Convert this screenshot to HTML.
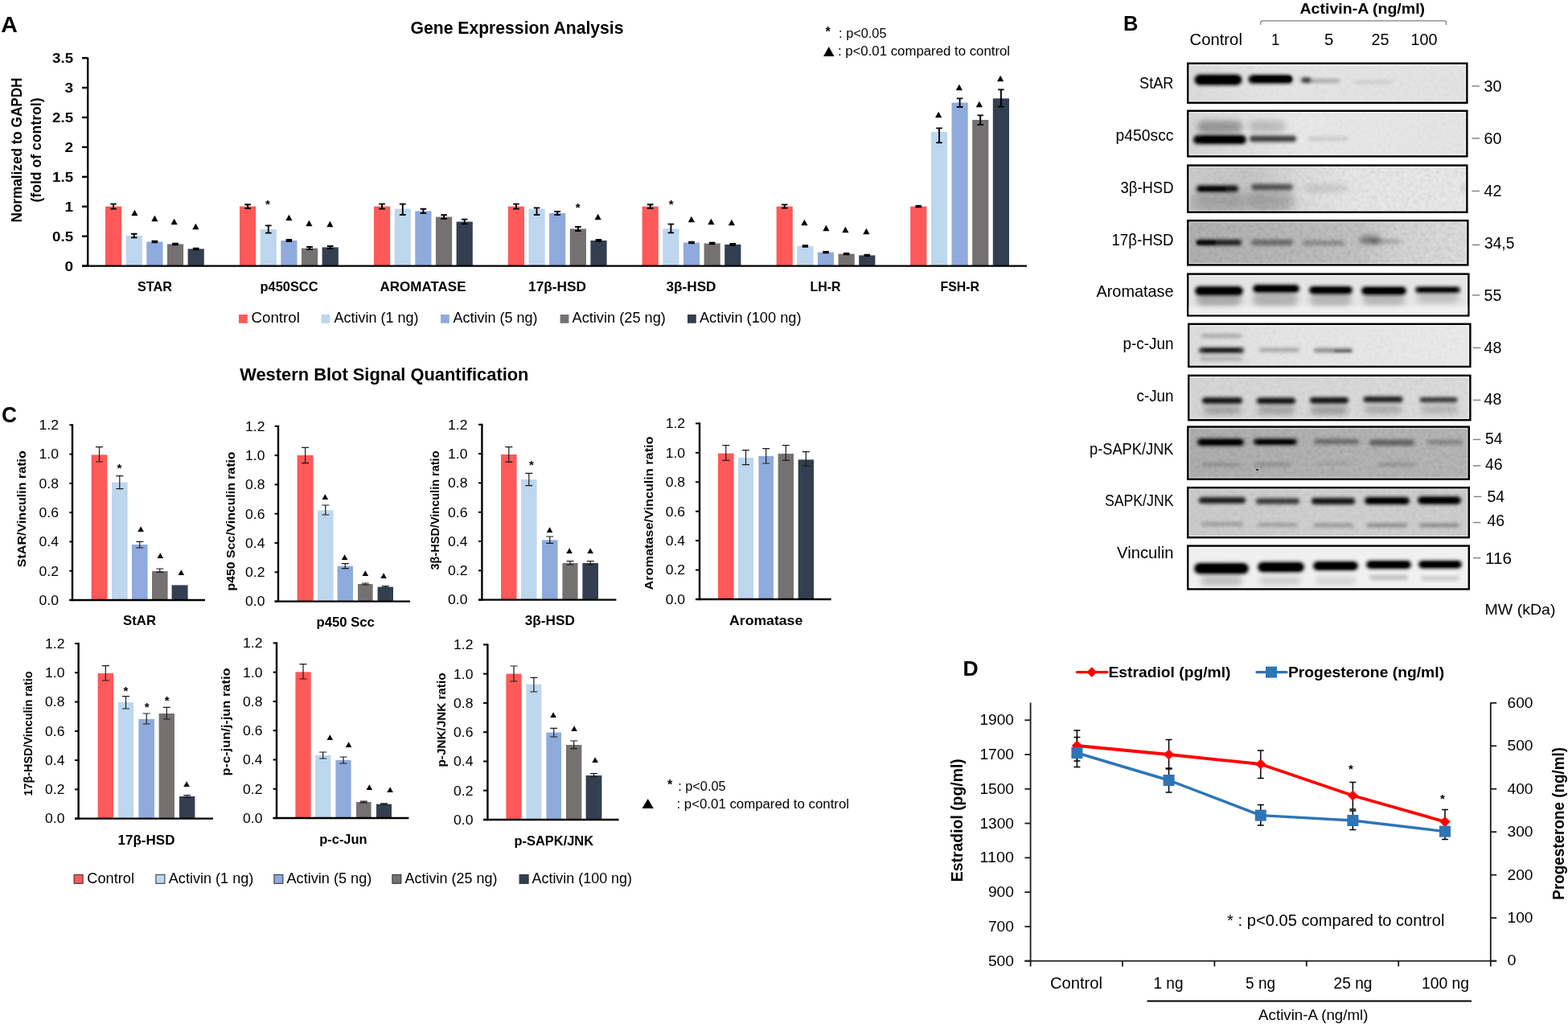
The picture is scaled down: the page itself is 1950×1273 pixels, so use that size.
<!DOCTYPE html>
<html lang="en"><head><meta charset="utf-8"><title>Figure</title>
<style>
html,body{margin:0;padding:0;background:#fff;}
body{width:1950px;height:1273px;overflow:hidden;}
svg{display:block;font-family:'Liberation Sans', sans-serif;filter:blur(0.45px);}
</style></head><body>
<svg width="1950" height="1273" viewBox="0 0 1950 1273" font-family='"Liberation Sans", sans-serif'>
<defs>
<filter id="b1" x="-50%" y="-400%" width="200%" height="900%"><feGaussianBlur stdDeviation="1.2"/></filter>
<filter id="b2" x="-50%" y="-400%" width="200%" height="900%"><feGaussianBlur stdDeviation="2"/></filter>
<filter id="b3" x="-50%" y="-400%" width="200%" height="900%"><feGaussianBlur stdDeviation="3.5"/></filter>
<filter id="b5" x="-50%" y="-400%" width="200%" height="900%"><feGaussianBlur stdDeviation="6"/></filter>
<filter id="nz" x="0" y="0" width="100%" height="100%"><feTurbulence type="fractalNoise" baseFrequency="0.3" numOctaves="2" seed="7" result="t"/><feColorMatrix in="t" type="matrix" values="0 0 0 0 0  0 0 0 0 0  0 0 0 0 0  1.6 0 0 0 -0.62"/><feGaussianBlur stdDeviation="0.9"/></filter>
</defs>
<rect width="1950" height="1273" fill="#fff"/>
<g id="panelA">
<text x="1.3" y="40.0" font-size="27.4" font-weight="bold" textLength="20.6" lengthAdjust="spacingAndGlyphs">A</text>
<text x="510.5" y="41.6" font-size="21.8" font-weight="bold" textLength="265.0" lengthAdjust="spacingAndGlyphs">Gene Expression Analysis</text>
<text x="1029.6" y="44.7" font-size="16" font-weight="bold" text-anchor="middle">*</text>
<text x="1043.1" y="46.6" font-size="16" textLength="59.4" lengthAdjust="spacingAndGlyphs">: p&lt;0.05</text>
<text x="1024.0" y="68.0" font-size="15.6" font-family="'DejaVu Sans', sans-serif" textLength="13.5" lengthAdjust="spacingAndGlyphs">▲</text>
<text x="1041.9" y="68.6" font-size="16" textLength="214.2" lengthAdjust="spacingAndGlyphs">: p&lt;0.01 compared to control</text>
<text transform="translate(26.6 186.5) rotate(-90)" font-size="17.6" font-weight="bold" text-anchor="middle" textLength="180.0" lengthAdjust="spacingAndGlyphs">Normalized to GAPDH</text>
<text transform="translate(50.6 186.5) rotate(-90)" font-size="17.6" font-weight="bold" text-anchor="middle" textLength="130.0" lengthAdjust="spacingAndGlyphs">(fold of control)</text>
<text x="91.1" y="336.6" font-size="17" font-weight="bold" text-anchor="end" textLength="10.6" lengthAdjust="spacingAndGlyphs">0</text>
<line x1="102.00" y1="330.60" x2="109.00" y2="330.60" stroke="#000" stroke-width="2.4"/>
<text x="91.1" y="299.7" font-size="17" font-weight="bold" text-anchor="end" textLength="26.0" lengthAdjust="spacingAndGlyphs">0.5</text>
<line x1="102.00" y1="293.68" x2="109.00" y2="293.68" stroke="#000" stroke-width="2.4"/>
<text x="91.1" y="262.8" font-size="17" font-weight="bold" text-anchor="end" textLength="10.6" lengthAdjust="spacingAndGlyphs">1</text>
<line x1="102.00" y1="256.75" x2="109.00" y2="256.75" stroke="#000" stroke-width="2.4"/>
<text x="91.1" y="225.8" font-size="17" font-weight="bold" text-anchor="end" textLength="26.0" lengthAdjust="spacingAndGlyphs">1.5</text>
<line x1="102.00" y1="219.83" x2="109.00" y2="219.83" stroke="#000" stroke-width="2.4"/>
<text x="91.1" y="188.9" font-size="17" font-weight="bold" text-anchor="end" textLength="10.6" lengthAdjust="spacingAndGlyphs">2</text>
<line x1="102.00" y1="182.90" x2="109.00" y2="182.90" stroke="#000" stroke-width="2.4"/>
<text x="91.1" y="152.0" font-size="17" font-weight="bold" text-anchor="end" textLength="26.0" lengthAdjust="spacingAndGlyphs">2.5</text>
<line x1="102.00" y1="145.98" x2="109.00" y2="145.98" stroke="#000" stroke-width="2.4"/>
<text x="91.1" y="115.1" font-size="17" font-weight="bold" text-anchor="end" textLength="10.6" lengthAdjust="spacingAndGlyphs">3</text>
<line x1="102.00" y1="109.05" x2="109.00" y2="109.05" stroke="#000" stroke-width="2.4"/>
<text x="91.1" y="78.1" font-size="17" font-weight="bold" text-anchor="end" textLength="26.0" lengthAdjust="spacingAndGlyphs">3.5</text>
<line x1="102.00" y1="72.13" x2="109.00" y2="72.13" stroke="#000" stroke-width="2.4"/>
<rect x="131.00" y="256.60" width="20.20" height="74.00" fill="#FF5959"/>
<rect x="156.65" y="293.00" width="20.20" height="37.60" fill="#BDD7EE"/>
<rect x="182.30" y="300.60" width="20.20" height="30.00" fill="#8FAADC"/>
<rect x="207.95" y="303.40" width="20.20" height="27.20" fill="#767171"/>
<rect x="233.60" y="309.40" width="20.20" height="21.20" fill="#333F50"/>
<rect x="298.00" y="256.60" width="20.20" height="74.00" fill="#FF5959"/>
<rect x="323.65" y="285.00" width="20.20" height="45.60" fill="#BDD7EE"/>
<rect x="349.30" y="299.00" width="20.20" height="31.60" fill="#8FAADC"/>
<rect x="374.95" y="308.60" width="20.20" height="22.00" fill="#767171"/>
<rect x="400.60" y="307.40" width="20.20" height="23.20" fill="#333F50"/>
<rect x="465.00" y="256.60" width="20.20" height="74.00" fill="#FF5959"/>
<rect x="490.65" y="259.60" width="20.20" height="71.00" fill="#BDD7EE"/>
<rect x="516.30" y="262.40" width="20.20" height="68.20" fill="#8FAADC"/>
<rect x="541.95" y="269.60" width="20.20" height="61.00" fill="#767171"/>
<rect x="567.60" y="275.60" width="20.20" height="55.00" fill="#333F50"/>
<rect x="631.80" y="256.60" width="20.20" height="74.00" fill="#FF5959"/>
<rect x="657.45" y="259.60" width="20.20" height="71.00" fill="#BDD7EE"/>
<rect x="683.10" y="265.00" width="20.20" height="65.60" fill="#8FAADC"/>
<rect x="708.75" y="284.40" width="20.20" height="46.20" fill="#767171"/>
<rect x="734.40" y="299.00" width="20.20" height="31.60" fill="#333F50"/>
<rect x="798.60" y="256.60" width="20.20" height="74.00" fill="#FF5959"/>
<rect x="824.25" y="284.40" width="20.20" height="46.20" fill="#BDD7EE"/>
<rect x="849.90" y="301.60" width="20.20" height="29.00" fill="#8FAADC"/>
<rect x="875.55" y="302.60" width="20.20" height="28.00" fill="#767171"/>
<rect x="901.20" y="304.00" width="20.20" height="26.60" fill="#333F50"/>
<rect x="965.60" y="256.60" width="20.20" height="74.00" fill="#FF5959"/>
<rect x="991.25" y="306.00" width="20.20" height="24.60" fill="#BDD7EE"/>
<rect x="1016.90" y="313.60" width="20.20" height="17.00" fill="#8FAADC"/>
<rect x="1042.55" y="315.60" width="20.20" height="15.00" fill="#767171"/>
<rect x="1068.20" y="317.40" width="20.20" height="13.20" fill="#333F50"/>
<rect x="1132.20" y="256.60" width="20.20" height="74.00" fill="#FF5959"/>
<rect x="1157.85" y="164.00" width="20.20" height="166.60" fill="#BDD7EE"/>
<rect x="1183.50" y="127.60" width="20.20" height="203.00" fill="#8FAADC"/>
<rect x="1209.15" y="149.00" width="20.20" height="181.60" fill="#767171"/>
<rect x="1234.80" y="122.40" width="20.20" height="208.20" fill="#333F50"/>
<path d="M137.3 253.6H144.9M137.3 259.6H144.9M141.1 253.6V259.6" stroke="#000" stroke-width="1.9" fill="none"/>
<path d="M162.9 290.8H170.6M162.9 295.4H170.6M166.8 290.8V295.4" stroke="#000" stroke-width="1.9" fill="none"/>
<path d="M188.6 299.8H196.2M188.6 301.4H196.2M192.4 299.8V301.4" stroke="#000" stroke-width="1.9" fill="none"/>
<path d="M214.2 302.6H221.8M214.2 304.2H221.8M218.0 302.6V304.2" stroke="#000" stroke-width="1.9" fill="none"/>
<path d="M239.9 308.6H247.5M239.9 310.2H247.5M243.7 308.6V310.2" stroke="#000" stroke-width="1.9" fill="none"/>
<path d="M304.3 254.2H311.9M304.3 259.0H311.9M308.1 254.2V259.0" stroke="#000" stroke-width="1.9" fill="none"/>
<path d="M329.9 280.4H337.6M329.9 289.6H337.6M333.8 280.4V289.6" stroke="#000" stroke-width="1.9" fill="none"/>
<path d="M355.6 298.0H363.2M355.6 300.0H363.2M359.4 298.0V300.0" stroke="#000" stroke-width="1.9" fill="none"/>
<path d="M381.2 307.0H388.9M381.2 310.0H388.9M385.1 307.0V310.0" stroke="#000" stroke-width="1.9" fill="none"/>
<path d="M406.9 306.0H414.5M406.9 309.0H414.5M410.7 306.0V309.0" stroke="#000" stroke-width="1.9" fill="none"/>
<path d="M471.3 253.6H478.9M471.3 259.6H478.9M475.1 253.6V259.6" stroke="#000" stroke-width="1.9" fill="none"/>
<path d="M496.9 253.6H504.6M496.9 267.0H504.6M500.8 253.6V267.0" stroke="#000" stroke-width="1.9" fill="none"/>
<path d="M522.6 259.8H530.2M522.6 265.0H530.2M526.4 259.8V265.0" stroke="#000" stroke-width="1.9" fill="none"/>
<path d="M548.3 267.2H555.9M548.3 272.0H555.9M552.1 267.2V272.0" stroke="#000" stroke-width="1.9" fill="none"/>
<path d="M573.9 272.6H581.5M573.9 278.4H581.5M577.7 272.6V278.4" stroke="#000" stroke-width="1.9" fill="none"/>
<path d="M638.1 253.6H645.7M638.1 259.6H645.7M641.9 253.6V259.6" stroke="#000" stroke-width="1.9" fill="none"/>
<path d="M663.8 258.4H671.3M663.8 267.0H671.3M667.5 258.4V267.0" stroke="#000" stroke-width="1.9" fill="none"/>
<path d="M689.4 263.0H697.0M689.4 267.0H697.0M693.2 263.0V267.0" stroke="#000" stroke-width="1.9" fill="none"/>
<path d="M715.1 282.0H722.6M715.1 287.0H722.6M718.9 282.0V287.0" stroke="#000" stroke-width="1.9" fill="none"/>
<path d="M740.7 298.0H748.3M740.7 300.0H748.3M744.5 298.0V300.0" stroke="#000" stroke-width="1.9" fill="none"/>
<path d="M804.9 254.2H812.5M804.9 259.0H812.5M808.7 254.2V259.0" stroke="#000" stroke-width="1.9" fill="none"/>
<path d="M830.6 278.6H838.1M830.6 289.4H838.1M834.4 278.6V289.4" stroke="#000" stroke-width="1.9" fill="none"/>
<path d="M856.2 300.8H863.8M856.2 302.4H863.8M860.0 300.8V302.4" stroke="#000" stroke-width="1.9" fill="none"/>
<path d="M881.9 301.8H889.4M881.9 303.4H889.4M885.6 301.8V303.4" stroke="#000" stroke-width="1.9" fill="none"/>
<path d="M907.5 303.0H915.1M907.5 305.0H915.1M911.3 303.0V305.0" stroke="#000" stroke-width="1.9" fill="none"/>
<path d="M971.9 254.4H979.5M971.9 258.6H979.5M975.7 254.4V258.6" stroke="#000" stroke-width="1.9" fill="none"/>
<path d="M997.6 305.2H1005.1M997.6 306.8H1005.1M1001.4 305.2V306.8" stroke="#000" stroke-width="1.9" fill="none"/>
<path d="M1023.2 313.0H1030.8M1023.2 314.2H1030.8M1027.0 313.0V314.2" stroke="#000" stroke-width="1.9" fill="none"/>
<path d="M1048.8 315.0H1056.4M1048.8 316.2H1056.4M1052.6 315.0V316.2" stroke="#000" stroke-width="1.9" fill="none"/>
<path d="M1074.5 316.8H1082.1M1074.5 318.0H1082.1M1078.3 316.8V318.0" stroke="#000" stroke-width="1.9" fill="none"/>
<path d="M1138.5 256.0H1146.1M1138.5 257.2H1146.1M1142.3 256.0V257.2" stroke="#000" stroke-width="1.9" fill="none"/>
<path d="M1164.2 159.4H1171.8M1164.2 177.4H1171.8M1168.0 159.4V177.4" stroke="#000" stroke-width="1.9" fill="none"/>
<path d="M1189.8 122.4H1197.4M1189.8 133.0H1197.4M1193.6 122.4V133.0" stroke="#000" stroke-width="1.9" fill="none"/>
<path d="M1215.5 143.4H1223.0M1215.5 155.0H1223.0M1219.2 143.4V155.0" stroke="#000" stroke-width="1.9" fill="none"/>
<path d="M1241.1 111.4H1248.7M1241.1 132.6H1248.7M1244.9 111.4V132.6" stroke="#000" stroke-width="1.9" fill="none"/>
<line x1="109.20" y1="71.40" x2="109.20" y2="331.80" stroke="#000" stroke-width="2.4"/>
<line x1="102.00" y1="330.60" x2="1277.00" y2="330.60" stroke="#000" stroke-width="2.4"/>
<text x="163.2" y="266.7" font-size="9.87" font-family="'DejaVu Sans', sans-serif" textLength="8.3" lengthAdjust="spacingAndGlyphs">▲</text>
<text x="188.2" y="274.3" font-size="9.87" font-family="'DejaVu Sans', sans-serif" textLength="8.3" lengthAdjust="spacingAndGlyphs">▲</text>
<text x="212.4" y="277.7" font-size="9.87" font-family="'DejaVu Sans', sans-serif" textLength="8.3" lengthAdjust="spacingAndGlyphs">▲</text>
<text x="239.2" y="283.9" font-size="9.87" font-family="'DejaVu Sans', sans-serif" textLength="8.3" lengthAdjust="spacingAndGlyphs">▲</text>
<text x="355.2" y="272.7" font-size="9.87" font-family="'DejaVu Sans', sans-serif" textLength="8.3" lengthAdjust="spacingAndGlyphs">▲</text>
<text x="380.2" y="279.9" font-size="9.87" font-family="'DejaVu Sans', sans-serif" textLength="8.3" lengthAdjust="spacingAndGlyphs">▲</text>
<text x="406.2" y="281.3" font-size="9.87" font-family="'DejaVu Sans', sans-serif" textLength="8.3" lengthAdjust="spacingAndGlyphs">▲</text>
<text x="739.4" y="271.7" font-size="9.87" font-family="'DejaVu Sans', sans-serif" textLength="8.3" lengthAdjust="spacingAndGlyphs">▲</text>
<text x="855.8" y="275.3" font-size="9.87" font-family="'DejaVu Sans', sans-serif" textLength="8.3" lengthAdjust="spacingAndGlyphs">▲</text>
<text x="880.2" y="277.7" font-size="9.87" font-family="'DejaVu Sans', sans-serif" textLength="8.3" lengthAdjust="spacingAndGlyphs">▲</text>
<text x="905.8" y="279.3" font-size="9.87" font-family="'DejaVu Sans', sans-serif" textLength="8.3" lengthAdjust="spacingAndGlyphs">▲</text>
<text x="996.2" y="278.7" font-size="9.87" font-family="'DejaVu Sans', sans-serif" textLength="8.3" lengthAdjust="spacingAndGlyphs">▲</text>
<text x="1023.2" y="285.9" font-size="9.87" font-family="'DejaVu Sans', sans-serif" textLength="8.3" lengthAdjust="spacingAndGlyphs">▲</text>
<text x="1047.2" y="288.3" font-size="9.87" font-family="'DejaVu Sans', sans-serif" textLength="8.3" lengthAdjust="spacingAndGlyphs">▲</text>
<text x="1073.2" y="290.3" font-size="9.87" font-family="'DejaVu Sans', sans-serif" textLength="8.3" lengthAdjust="spacingAndGlyphs">▲</text>
<text x="1163.0" y="144.7" font-size="9.87" font-family="'DejaVu Sans', sans-serif" textLength="8.3" lengthAdjust="spacingAndGlyphs">▲</text>
<text x="1188.8" y="111.3" font-size="9.87" font-family="'DejaVu Sans', sans-serif" textLength="8.3" lengthAdjust="spacingAndGlyphs">▲</text>
<text x="1213.8" y="132.3" font-size="9.87" font-family="'DejaVu Sans', sans-serif" textLength="8.3" lengthAdjust="spacingAndGlyphs">▲</text>
<text x="1240.0" y="100.3" font-size="9.87" font-family="'DejaVu Sans', sans-serif" textLength="8.3" lengthAdjust="spacingAndGlyphs">▲</text>
<text x="333.0" y="258.6" font-size="15" font-weight="bold" text-anchor="middle">*</text>
<text x="718.6" y="263.1" font-size="15" font-weight="bold" text-anchor="middle">*</text>
<text x="834.6" y="259.4" font-size="15" font-weight="bold" text-anchor="middle">*</text>
<text x="170.9" y="361.6" font-size="17" font-weight="bold" textLength="43.2" lengthAdjust="spacingAndGlyphs">STAR</text>
<text x="323.5" y="361.6" font-size="17" font-weight="bold" textLength="72.0" lengthAdjust="spacingAndGlyphs">p450SCC</text>
<text x="472.5" y="361.6" font-size="17" font-weight="bold" textLength="107.0" lengthAdjust="spacingAndGlyphs">AROMATASE</text>
<text x="657.1" y="361.6" font-size="17" font-weight="bold" textLength="72.0" lengthAdjust="spacingAndGlyphs">17β-HSD</text>
<text x="828.5" y="361.6" font-size="17" font-weight="bold" textLength="62.0" lengthAdjust="spacingAndGlyphs">3β-HSD</text>
<text x="1007.5" y="361.6" font-size="17" font-weight="bold" textLength="38.0" lengthAdjust="spacingAndGlyphs">LH-R</text>
<text x="1169.5" y="361.6" font-size="17" font-weight="bold" textLength="48.6" lengthAdjust="spacingAndGlyphs">FSH-R</text>
<rect x="297.00" y="391.00" width="10.80" height="10.80" fill="#FF5959"/>
<text x="312.5" y="400.8" font-size="17.6" textLength="60.4" lengthAdjust="spacingAndGlyphs">Control</text>
<rect x="399.60" y="391.00" width="10.80" height="10.80" fill="#BDD7EE"/>
<text x="415.5" y="400.8" font-size="17.6" textLength="105.0" lengthAdjust="spacingAndGlyphs">Activin (1 ng)</text>
<rect x="548.00" y="391.00" width="10.80" height="10.80" fill="#8FAADC"/>
<text x="563.5" y="400.8" font-size="17.6" textLength="105.0" lengthAdjust="spacingAndGlyphs">Activin (5 ng)</text>
<rect x="696.60" y="391.00" width="10.80" height="10.80" fill="#767171"/>
<text x="711.5" y="400.8" font-size="17.6" textLength="116.4" lengthAdjust="spacingAndGlyphs">Activin (25 ng)</text>
<rect x="855.00" y="391.00" width="10.80" height="10.80" fill="#333F50"/>
<text x="869.9" y="400.8" font-size="17.6" textLength="126.6" lengthAdjust="spacingAndGlyphs">Activin (100 ng)</text>
</g>
<g id="panelC">
<text x="2.1" y="525.0" font-size="27" font-weight="bold" textLength="19.0" lengthAdjust="spacingAndGlyphs">C</text>
<text x="298.2" y="472.8" font-size="22" font-weight="bold" textLength="359.3" lengthAdjust="spacingAndGlyphs">Western Blot Signal Quantification</text>
<text x="72.9" y="751.8" font-size="16.2" text-anchor="end" textLength="24.4" lengthAdjust="spacingAndGlyphs">0.0</text>
<line x1="86.40" y1="746.00" x2="90.00" y2="746.00" stroke="#000" stroke-width="2"/>
<text x="72.9" y="715.5" font-size="16.2" text-anchor="end" textLength="24.4" lengthAdjust="spacingAndGlyphs">0.2</text>
<line x1="86.40" y1="709.72" x2="90.00" y2="709.72" stroke="#000" stroke-width="2"/>
<text x="72.9" y="679.2" font-size="16.2" text-anchor="end" textLength="24.4" lengthAdjust="spacingAndGlyphs">0.4</text>
<line x1="86.40" y1="673.43" x2="90.00" y2="673.43" stroke="#000" stroke-width="2"/>
<text x="72.9" y="642.9" font-size="16.2" text-anchor="end" textLength="24.4" lengthAdjust="spacingAndGlyphs">0.6</text>
<line x1="86.40" y1="637.15" x2="90.00" y2="637.15" stroke="#000" stroke-width="2"/>
<text x="72.9" y="606.7" font-size="16.2" text-anchor="end" textLength="24.4" lengthAdjust="spacingAndGlyphs">0.8</text>
<line x1="86.40" y1="600.87" x2="90.00" y2="600.87" stroke="#000" stroke-width="2"/>
<text x="72.9" y="570.4" font-size="16.2" text-anchor="end" textLength="24.4" lengthAdjust="spacingAndGlyphs">1.0</text>
<line x1="86.40" y1="564.58" x2="90.00" y2="564.58" stroke="#000" stroke-width="2"/>
<text x="72.9" y="534.1" font-size="16.2" text-anchor="end" textLength="24.4" lengthAdjust="spacingAndGlyphs">1.2</text>
<line x1="86.40" y1="528.30" x2="90.00" y2="528.30" stroke="#000" stroke-width="2"/>
<rect x="113.60" y="565.40" width="19.80" height="180.60" fill="#FF5959"/>
<rect x="139.00" y="599.60" width="19.60" height="146.40" fill="#BDD7EE"/>
<rect x="164.00" y="677.00" width="19.60" height="69.00" fill="#8FAADC"/>
<rect x="189.00" y="710.00" width="19.60" height="36.00" fill="#767171"/>
<rect x="213.60" y="727.40" width="20.00" height="18.60" fill="#333F50"/>
<path d="M119.0 555.6H128.0M119.0 574.0H128.0M123.5 555.6V574.0" stroke="#1a1a1a" stroke-width="1.2" fill="none"/>
<path d="M144.3 591.6H153.3M144.3 607.6H153.3M148.8 591.6V607.6" stroke="#1a1a1a" stroke-width="1.2" fill="none"/>
<path d="M169.3 673.4H178.3M169.3 681.0H178.3M173.8 673.4V681.0" stroke="#1a1a1a" stroke-width="1.2" fill="none"/>
<path d="M194.3 707.0H203.3M194.3 711.4H203.3M198.8 707.0V711.4" stroke="#1a1a1a" stroke-width="1.2" fill="none"/>
<line x1="90.00" y1="527.30" x2="90.00" y2="747.20" stroke="#000" stroke-width="2.4"/>
<line x1="86.40" y1="746.00" x2="255.00" y2="746.00" stroke="#000" stroke-width="2.4"/>
<text x="171.2" y="659.7" font-size="9.07" font-family="'DejaVu Sans', sans-serif" textLength="7.7" lengthAdjust="spacingAndGlyphs">▲</text>
<text x="195.6" y="693.1" font-size="9.07" font-family="'DejaVu Sans', sans-serif" textLength="7.7" lengthAdjust="spacingAndGlyphs">▲</text>
<text x="221.6" y="713.7" font-size="9.07" font-family="'DejaVu Sans', sans-serif" textLength="7.7" lengthAdjust="spacingAndGlyphs">▲</text>
<text x="148.4" y="586.6" font-size="15" font-weight="bold" text-anchor="middle">*</text>
<text transform="translate(32.0 632.7) rotate(-90)" font-size="14.6" font-weight="bold" text-anchor="middle" textLength="145.0" lengthAdjust="spacingAndGlyphs">StAR/Vinculin ratio</text>
<text x="153.1" y="777.0" font-size="16.6" font-weight="bold" textLength="41.0" lengthAdjust="spacingAndGlyphs">StAR</text>
<text x="329.5" y="753.4" font-size="16.2" text-anchor="end" textLength="24.4" lengthAdjust="spacingAndGlyphs">0.0</text>
<line x1="341.60" y1="747.60" x2="346.00" y2="747.60" stroke="#000" stroke-width="2"/>
<text x="329.5" y="717.1" font-size="16.2" text-anchor="end" textLength="24.4" lengthAdjust="spacingAndGlyphs">0.2</text>
<line x1="341.60" y1="711.30" x2="346.00" y2="711.30" stroke="#000" stroke-width="2"/>
<text x="329.5" y="680.8" font-size="16.2" text-anchor="end" textLength="24.4" lengthAdjust="spacingAndGlyphs">0.4</text>
<line x1="341.60" y1="675.00" x2="346.00" y2="675.00" stroke="#000" stroke-width="2"/>
<text x="329.5" y="644.5" font-size="16.2" text-anchor="end" textLength="24.4" lengthAdjust="spacingAndGlyphs">0.6</text>
<line x1="341.60" y1="638.70" x2="346.00" y2="638.70" stroke="#000" stroke-width="2"/>
<text x="329.5" y="608.2" font-size="16.2" text-anchor="end" textLength="24.4" lengthAdjust="spacingAndGlyphs">0.8</text>
<line x1="341.60" y1="602.40" x2="346.00" y2="602.40" stroke="#000" stroke-width="2"/>
<text x="329.5" y="571.9" font-size="16.2" text-anchor="end" textLength="24.4" lengthAdjust="spacingAndGlyphs">1.0</text>
<line x1="341.60" y1="566.10" x2="346.00" y2="566.10" stroke="#000" stroke-width="2"/>
<text x="329.5" y="535.6" font-size="16.2" text-anchor="end" textLength="24.4" lengthAdjust="spacingAndGlyphs">1.2</text>
<line x1="341.60" y1="529.80" x2="346.00" y2="529.80" stroke="#000" stroke-width="2"/>
<rect x="369.60" y="566.00" width="20.00" height="181.60" fill="#FF5959"/>
<rect x="395.00" y="634.40" width="19.60" height="113.20" fill="#BDD7EE"/>
<rect x="419.60" y="703.60" width="19.40" height="44.00" fill="#8FAADC"/>
<rect x="445.00" y="726.00" width="18.60" height="21.60" fill="#767171"/>
<rect x="469.60" y="729.60" width="19.40" height="18.00" fill="#333F50"/>
<path d="M375.1 556.4H384.1M375.1 575.6H384.1M379.6 556.4V575.6" stroke="#1a1a1a" stroke-width="1.2" fill="none"/>
<path d="M400.3 628.0H409.3M400.3 640.0H409.3M404.8 628.0V640.0" stroke="#1a1a1a" stroke-width="1.2" fill="none"/>
<path d="M424.8 700.6H433.8M424.8 706.6H433.8M429.3 700.6V706.6" stroke="#1a1a1a" stroke-width="1.2" fill="none"/>
<path d="M449.8 725.0H458.8M449.8 727.0H458.8M454.3 725.0V727.0" stroke="#1a1a1a" stroke-width="1.2" fill="none"/>
<path d="M474.8 728.6H483.8M474.8 730.6H483.8M479.3 728.6V730.6" stroke="#1a1a1a" stroke-width="1.2" fill="none"/>
<line x1="346.00" y1="528.80" x2="346.00" y2="748.80" stroke="#000" stroke-width="2.4"/>
<line x1="341.60" y1="747.60" x2="510.00" y2="747.60" stroke="#000" stroke-width="2.4"/>
<text x="400.6" y="620.1" font-size="9.07" font-family="'DejaVu Sans', sans-serif" textLength="7.7" lengthAdjust="spacingAndGlyphs">▲</text>
<text x="424.8" y="694.7" font-size="9.07" font-family="'DejaVu Sans', sans-serif" textLength="7.7" lengthAdjust="spacingAndGlyphs">▲</text>
<text x="450.6" y="715.1" font-size="9.07" font-family="'DejaVu Sans', sans-serif" textLength="7.7" lengthAdjust="spacingAndGlyphs">▲</text>
<text x="473.2" y="717.7" font-size="9.07" font-family="'DejaVu Sans', sans-serif" textLength="7.7" lengthAdjust="spacingAndGlyphs">▲</text>
<text transform="translate(291.8 648.0) rotate(-90)" font-size="14.6" font-weight="bold" text-anchor="middle" textLength="173.0" lengthAdjust="spacingAndGlyphs">p450 Scc/Vinculin ratio</text>
<text x="393.5" y="778.6" font-size="16.6" font-weight="bold" textLength="72.4" lengthAdjust="spacingAndGlyphs">p450 Scc</text>
<text x="581.5" y="751.4" font-size="16.2" text-anchor="end" textLength="24.4" lengthAdjust="spacingAndGlyphs">0.0</text>
<line x1="595.00" y1="745.60" x2="599.40" y2="745.60" stroke="#000" stroke-width="2"/>
<text x="581.5" y="715.1" font-size="16.2" text-anchor="end" textLength="24.4" lengthAdjust="spacingAndGlyphs">0.2</text>
<line x1="595.00" y1="709.30" x2="599.40" y2="709.30" stroke="#000" stroke-width="2"/>
<text x="581.5" y="678.8" font-size="16.2" text-anchor="end" textLength="24.4" lengthAdjust="spacingAndGlyphs">0.4</text>
<line x1="595.00" y1="673.00" x2="599.40" y2="673.00" stroke="#000" stroke-width="2"/>
<text x="581.5" y="642.5" font-size="16.2" text-anchor="end" textLength="24.4" lengthAdjust="spacingAndGlyphs">0.6</text>
<line x1="595.00" y1="636.70" x2="599.40" y2="636.70" stroke="#000" stroke-width="2"/>
<text x="581.5" y="606.2" font-size="16.2" text-anchor="end" textLength="24.4" lengthAdjust="spacingAndGlyphs">0.8</text>
<line x1="595.00" y1="600.40" x2="599.40" y2="600.40" stroke="#000" stroke-width="2"/>
<text x="581.5" y="569.9" font-size="16.2" text-anchor="end" textLength="24.4" lengthAdjust="spacingAndGlyphs">1.0</text>
<line x1="595.00" y1="564.10" x2="599.40" y2="564.10" stroke="#000" stroke-width="2"/>
<text x="581.5" y="533.6" font-size="16.2" text-anchor="end" textLength="24.4" lengthAdjust="spacingAndGlyphs">1.2</text>
<line x1="595.00" y1="527.80" x2="599.40" y2="527.80" stroke="#000" stroke-width="2"/>
<rect x="623.00" y="565.00" width="19.60" height="180.60" fill="#FF5959"/>
<rect x="648.00" y="596.00" width="19.60" height="149.60" fill="#BDD7EE"/>
<rect x="674.00" y="671.40" width="19.60" height="74.20" fill="#8FAADC"/>
<rect x="699.40" y="700.00" width="19.20" height="45.60" fill="#767171"/>
<rect x="724.40" y="700.00" width="19.60" height="45.60" fill="#333F50"/>
<path d="M628.3 555.6H637.3M628.3 574.4H637.3M632.8 555.6V574.4" stroke="#1a1a1a" stroke-width="1.2" fill="none"/>
<path d="M653.3 588.4H662.3M653.3 603.6H662.3M657.8 588.4V603.6" stroke="#1a1a1a" stroke-width="1.2" fill="none"/>
<path d="M679.3 667.0H688.3M679.3 675.4H688.3M683.8 667.0V675.4" stroke="#1a1a1a" stroke-width="1.2" fill="none"/>
<path d="M704.5 697.6H713.5M704.5 702.0H713.5M709.0 697.6V702.0" stroke="#1a1a1a" stroke-width="1.2" fill="none"/>
<path d="M729.7 697.6H738.7M729.7 702.0H738.7M734.2 697.6V702.0" stroke="#1a1a1a" stroke-width="1.2" fill="none"/>
<line x1="599.40" y1="526.80" x2="599.40" y2="746.80" stroke="#000" stroke-width="2.4"/>
<line x1="595.00" y1="745.60" x2="766.40" y2="745.60" stroke="#000" stroke-width="2.4"/>
<text x="679.8" y="660.5" font-size="9.07" font-family="'DejaVu Sans', sans-serif" textLength="7.7" lengthAdjust="spacingAndGlyphs">▲</text>
<text x="704.2" y="687.1" font-size="9.07" font-family="'DejaVu Sans', sans-serif" textLength="7.7" lengthAdjust="spacingAndGlyphs">▲</text>
<text x="730.2" y="687.1" font-size="9.07" font-family="'DejaVu Sans', sans-serif" textLength="7.7" lengthAdjust="spacingAndGlyphs">▲</text>
<text x="661.0" y="582.6" font-size="15" font-weight="bold" text-anchor="middle">*</text>
<text transform="translate(546.0 634.5) rotate(-90)" font-size="14.6" font-weight="bold" text-anchor="middle" textLength="148.0" lengthAdjust="spacingAndGlyphs">3β-HSD/Vinculin ratio</text>
<text x="652.8" y="777.3" font-size="16.6" font-weight="bold" textLength="62.1" lengthAdjust="spacingAndGlyphs">3β-HSD</text>
<text x="852.1" y="750.8" font-size="16.2" text-anchor="end" textLength="24.4" lengthAdjust="spacingAndGlyphs">0.0</text>
<line x1="865.00" y1="745.00" x2="870.00" y2="745.00" stroke="#000" stroke-width="2"/>
<text x="852.1" y="714.4" font-size="16.2" text-anchor="end" textLength="24.4" lengthAdjust="spacingAndGlyphs">0.2</text>
<line x1="865.00" y1="708.57" x2="870.00" y2="708.57" stroke="#000" stroke-width="2"/>
<text x="852.1" y="677.9" font-size="16.2" text-anchor="end" textLength="24.4" lengthAdjust="spacingAndGlyphs">0.4</text>
<line x1="865.00" y1="672.13" x2="870.00" y2="672.13" stroke="#000" stroke-width="2"/>
<text x="852.1" y="641.5" font-size="16.2" text-anchor="end" textLength="24.4" lengthAdjust="spacingAndGlyphs">0.6</text>
<line x1="865.00" y1="635.70" x2="870.00" y2="635.70" stroke="#000" stroke-width="2"/>
<text x="852.1" y="605.1" font-size="16.2" text-anchor="end" textLength="24.4" lengthAdjust="spacingAndGlyphs">0.8</text>
<line x1="865.00" y1="599.27" x2="870.00" y2="599.27" stroke="#000" stroke-width="2"/>
<text x="852.1" y="568.6" font-size="16.2" text-anchor="end" textLength="24.4" lengthAdjust="spacingAndGlyphs">1.0</text>
<line x1="865.00" y1="562.83" x2="870.00" y2="562.83" stroke="#000" stroke-width="2"/>
<text x="852.1" y="532.2" font-size="16.2" text-anchor="end" textLength="24.4" lengthAdjust="spacingAndGlyphs">1.2</text>
<line x1="865.00" y1="526.40" x2="870.00" y2="526.40" stroke="#000" stroke-width="2"/>
<rect x="893.00" y="563.60" width="19.60" height="181.40" fill="#FF5959"/>
<rect x="918.00" y="569.00" width="19.00" height="176.00" fill="#BDD7EE"/>
<rect x="943.40" y="567.00" width="18.60" height="178.00" fill="#8FAADC"/>
<rect x="967.60" y="564.00" width="19.40" height="181.00" fill="#767171"/>
<rect x="992.60" y="571.40" width="19.40" height="173.60" fill="#333F50"/>
<path d="M898.3 553.6H907.3M898.3 572.4H907.3M902.8 553.6V572.4" stroke="#1a1a1a" stroke-width="1.2" fill="none"/>
<path d="M923.0 559.6H932.0M923.0 577.6H932.0M927.5 559.6V577.6" stroke="#1a1a1a" stroke-width="1.2" fill="none"/>
<path d="M948.2 557.6H957.2M948.2 576.0H957.2M952.7 557.6V576.0" stroke="#1a1a1a" stroke-width="1.2" fill="none"/>
<path d="M972.8 553.6H981.8M972.8 572.4H981.8M977.3 553.6V572.4" stroke="#1a1a1a" stroke-width="1.2" fill="none"/>
<path d="M997.8 561.6H1006.8M997.8 579.4H1006.8M1002.3 561.6V579.4" stroke="#1a1a1a" stroke-width="1.2" fill="none"/>
<line x1="870.00" y1="525.40" x2="870.00" y2="746.20" stroke="#000" stroke-width="2.4"/>
<line x1="865.00" y1="745.00" x2="1033.60" y2="745.00" stroke="#000" stroke-width="2.4"/>
<text transform="translate(811.5 638.0) rotate(-90)" font-size="14.6" font-weight="bold" text-anchor="middle" textLength="191.0" lengthAdjust="spacingAndGlyphs">Aromatase/Vinculin ratio</text>
<text x="907.1" y="776.7" font-size="16.6" font-weight="bold" textLength="91.1" lengthAdjust="spacingAndGlyphs">Aromatase</text>
<text x="80.5" y="1023.4" font-size="16.2" text-anchor="end" textLength="24.4" lengthAdjust="spacingAndGlyphs">0.0</text>
<line x1="93.00" y1="1017.60" x2="97.60" y2="1017.60" stroke="#000" stroke-width="2"/>
<text x="80.5" y="987.1" font-size="16.2" text-anchor="end" textLength="24.4" lengthAdjust="spacingAndGlyphs">0.2</text>
<line x1="93.00" y1="981.33" x2="97.60" y2="981.33" stroke="#000" stroke-width="2"/>
<text x="80.5" y="950.9" font-size="16.2" text-anchor="end" textLength="24.4" lengthAdjust="spacingAndGlyphs">0.4</text>
<line x1="93.00" y1="945.07" x2="97.60" y2="945.07" stroke="#000" stroke-width="2"/>
<text x="80.5" y="914.6" font-size="16.2" text-anchor="end" textLength="24.4" lengthAdjust="spacingAndGlyphs">0.6</text>
<line x1="93.00" y1="908.80" x2="97.60" y2="908.80" stroke="#000" stroke-width="2"/>
<text x="80.5" y="878.3" font-size="16.2" text-anchor="end" textLength="24.4" lengthAdjust="spacingAndGlyphs">0.8</text>
<line x1="93.00" y1="872.53" x2="97.60" y2="872.53" stroke="#000" stroke-width="2"/>
<text x="80.5" y="842.1" font-size="16.2" text-anchor="end" textLength="24.4" lengthAdjust="spacingAndGlyphs">1.0</text>
<line x1="93.00" y1="836.27" x2="97.60" y2="836.27" stroke="#000" stroke-width="2"/>
<text x="80.5" y="805.8" font-size="16.2" text-anchor="end" textLength="24.4" lengthAdjust="spacingAndGlyphs">1.2</text>
<line x1="93.00" y1="800.00" x2="97.60" y2="800.00" stroke="#000" stroke-width="2"/>
<rect x="121.60" y="837.00" width="19.40" height="180.60" fill="#FF5959"/>
<rect x="147.00" y="873.00" width="19.00" height="144.60" fill="#BDD7EE"/>
<rect x="172.40" y="894.00" width="19.60" height="123.60" fill="#8FAADC"/>
<rect x="197.60" y="887.00" width="19.40" height="130.60" fill="#767171"/>
<rect x="223.00" y="990.00" width="19.40" height="27.60" fill="#333F50"/>
<path d="M126.8 827.6H135.8M126.8 846.0H135.8M131.3 827.6V846.0" stroke="#1a1a1a" stroke-width="1.2" fill="none"/>
<path d="M152.0 865.6H161.0M152.0 881.0H161.0M156.5 865.6V881.0" stroke="#1a1a1a" stroke-width="1.2" fill="none"/>
<path d="M177.7 887.0H186.7M177.7 900.0H186.7M182.2 887.0V900.0" stroke="#1a1a1a" stroke-width="1.2" fill="none"/>
<path d="M202.8 879.4H211.8M202.8 894.0H211.8M207.3 879.4V894.0" stroke="#1a1a1a" stroke-width="1.2" fill="none"/>
<path d="M228.2 988.6H237.2M228.2 991.4H237.2M232.7 988.6V991.4" stroke="#1a1a1a" stroke-width="1.2" fill="none"/>
<line x1="97.60" y1="799.00" x2="97.60" y2="1018.80" stroke="#000" stroke-width="2.4"/>
<line x1="93.00" y1="1017.60" x2="265.00" y2="1017.60" stroke="#000" stroke-width="2.4"/>
<text x="228.2" y="976.5" font-size="9.07" font-family="'DejaVu Sans', sans-serif" textLength="7.7" lengthAdjust="spacingAndGlyphs">▲</text>
<text x="156.4" y="864.0" font-size="15" font-weight="bold" text-anchor="middle">*</text>
<text x="182.6" y="884.4" font-size="15" font-weight="bold" text-anchor="middle">*</text>
<text x="207.6" y="876.4" font-size="15" font-weight="bold" text-anchor="middle">*</text>
<text transform="translate(39.8 912.0) rotate(-90)" font-size="14.6" font-weight="bold" text-anchor="middle" textLength="155.0" lengthAdjust="spacingAndGlyphs">17β-HSD/Vinculin ratio</text>
<text x="146.5" y="1049.6" font-size="16.6" font-weight="bold" textLength="71.0" lengthAdjust="spacingAndGlyphs">17β-HSD</text>
<text x="326.5" y="1022.8" font-size="16.2" text-anchor="end" textLength="24.4" lengthAdjust="spacingAndGlyphs">0.0</text>
<line x1="339.60" y1="1017.00" x2="344.00" y2="1017.00" stroke="#000" stroke-width="2"/>
<text x="326.5" y="986.5" font-size="16.2" text-anchor="end" textLength="24.4" lengthAdjust="spacingAndGlyphs">0.2</text>
<line x1="339.60" y1="980.73" x2="344.00" y2="980.73" stroke="#000" stroke-width="2"/>
<text x="326.5" y="950.3" font-size="16.2" text-anchor="end" textLength="24.4" lengthAdjust="spacingAndGlyphs">0.4</text>
<line x1="339.60" y1="944.47" x2="344.00" y2="944.47" stroke="#000" stroke-width="2"/>
<text x="326.5" y="914.0" font-size="16.2" text-anchor="end" textLength="24.4" lengthAdjust="spacingAndGlyphs">0.6</text>
<line x1="339.60" y1="908.20" x2="344.00" y2="908.20" stroke="#000" stroke-width="2"/>
<text x="326.5" y="877.7" font-size="16.2" text-anchor="end" textLength="24.4" lengthAdjust="spacingAndGlyphs">0.8</text>
<line x1="339.60" y1="871.93" x2="344.00" y2="871.93" stroke="#000" stroke-width="2"/>
<text x="326.5" y="841.5" font-size="16.2" text-anchor="end" textLength="24.4" lengthAdjust="spacingAndGlyphs">1.0</text>
<line x1="339.60" y1="835.67" x2="344.00" y2="835.67" stroke="#000" stroke-width="2"/>
<text x="326.5" y="805.2" font-size="16.2" text-anchor="end" textLength="24.4" lengthAdjust="spacingAndGlyphs">1.2</text>
<line x1="339.60" y1="799.40" x2="344.00" y2="799.40" stroke="#000" stroke-width="2"/>
<rect x="367.40" y="835.40" width="19.20" height="181.60" fill="#FF5959"/>
<rect x="392.00" y="939.00" width="19.40" height="78.00" fill="#BDD7EE"/>
<rect x="417.40" y="945.00" width="19.20" height="72.00" fill="#8FAADC"/>
<rect x="443.00" y="997.00" width="18.60" height="20.00" fill="#767171"/>
<rect x="468.00" y="999.60" width="19.00" height="17.40" fill="#333F50"/>
<path d="M372.5 825.6H381.5M372.5 844.0H381.5M377.0 825.6V844.0" stroke="#1a1a1a" stroke-width="1.2" fill="none"/>
<path d="M397.2 935.0H406.2M397.2 943.0H406.2M401.7 935.0V943.0" stroke="#1a1a1a" stroke-width="1.2" fill="none"/>
<path d="M422.5 941.0H431.5M422.5 949.0H431.5M427.0 941.0V949.0" stroke="#1a1a1a" stroke-width="1.2" fill="none"/>
<path d="M447.8 996.2H456.8M447.8 997.8H456.8M452.3 996.2V997.8" stroke="#1a1a1a" stroke-width="1.2" fill="none"/>
<path d="M473.0 998.8H482.0M473.0 1000.4H482.0M477.5 998.8V1000.4" stroke="#1a1a1a" stroke-width="1.2" fill="none"/>
<line x1="344.00" y1="798.40" x2="344.00" y2="1018.20" stroke="#000" stroke-width="2.4"/>
<line x1="339.60" y1="1017.00" x2="508.40" y2="1017.00" stroke="#000" stroke-width="2.4"/>
<text x="406.6" y="918.5" font-size="9.07" font-family="'DejaVu Sans', sans-serif" textLength="7.7" lengthAdjust="spacingAndGlyphs">▲</text>
<text x="429.8" y="928.1" font-size="9.07" font-family="'DejaVu Sans', sans-serif" textLength="7.7" lengthAdjust="spacingAndGlyphs">▲</text>
<text x="455.6" y="980.7" font-size="9.07" font-family="'DejaVu Sans', sans-serif" textLength="7.7" lengthAdjust="spacingAndGlyphs">▲</text>
<text x="481.2" y="983.5" font-size="9.07" font-family="'DejaVu Sans', sans-serif" textLength="7.7" lengthAdjust="spacingAndGlyphs">▲</text>
<text transform="translate(285.6 897.5) rotate(-90)" font-size="14.6" font-weight="bold" text-anchor="middle" textLength="134.0" lengthAdjust="spacingAndGlyphs">p-c-jun/j-jun ratio</text>
<text x="397.3" y="1048.5" font-size="16.6" font-weight="bold" textLength="59.2" lengthAdjust="spacingAndGlyphs">p-c-Jun</text>
<text x="588.5" y="1024.8" font-size="16.2" text-anchor="end" textLength="24.4" lengthAdjust="spacingAndGlyphs">0.0</text>
<line x1="601.00" y1="1019.00" x2="606.40" y2="1019.00" stroke="#000" stroke-width="2"/>
<text x="588.5" y="988.5" font-size="16.2" text-anchor="end" textLength="24.4" lengthAdjust="spacingAndGlyphs">0.2</text>
<line x1="601.00" y1="982.73" x2="606.40" y2="982.73" stroke="#000" stroke-width="2"/>
<text x="588.5" y="952.3" font-size="16.2" text-anchor="end" textLength="24.4" lengthAdjust="spacingAndGlyphs">0.4</text>
<line x1="601.00" y1="946.47" x2="606.40" y2="946.47" stroke="#000" stroke-width="2"/>
<text x="588.5" y="916.0" font-size="16.2" text-anchor="end" textLength="24.4" lengthAdjust="spacingAndGlyphs">0.6</text>
<line x1="601.00" y1="910.20" x2="606.40" y2="910.20" stroke="#000" stroke-width="2"/>
<text x="588.5" y="879.7" font-size="16.2" text-anchor="end" textLength="24.4" lengthAdjust="spacingAndGlyphs">0.8</text>
<line x1="601.00" y1="873.93" x2="606.40" y2="873.93" stroke="#000" stroke-width="2"/>
<text x="588.5" y="843.5" font-size="16.2" text-anchor="end" textLength="24.4" lengthAdjust="spacingAndGlyphs">1.0</text>
<line x1="601.00" y1="837.67" x2="606.40" y2="837.67" stroke="#000" stroke-width="2"/>
<text x="588.5" y="807.2" font-size="16.2" text-anchor="end" textLength="24.4" lengthAdjust="spacingAndGlyphs">1.2</text>
<line x1="601.00" y1="801.40" x2="606.40" y2="801.40" stroke="#000" stroke-width="2"/>
<rect x="629.40" y="837.60" width="19.20" height="181.40" fill="#FF5959"/>
<rect x="654.40" y="850.60" width="19.00" height="168.40" fill="#BDD7EE"/>
<rect x="679.40" y="910.60" width="18.60" height="108.40" fill="#8FAADC"/>
<rect x="704.00" y="926.00" width="19.40" height="93.00" fill="#767171"/>
<rect x="728.60" y="964.00" width="19.80" height="55.00" fill="#333F50"/>
<path d="M634.5 828.0H643.5M634.5 847.0H643.5M639.0 828.0V847.0" stroke="#1a1a1a" stroke-width="1.2" fill="none"/>
<path d="M659.4 842.4H668.4M659.4 860.0H668.4M663.9 842.4V860.0" stroke="#1a1a1a" stroke-width="1.2" fill="none"/>
<path d="M684.2 905.4H693.2M684.2 916.0H693.2M688.7 905.4V916.0" stroke="#1a1a1a" stroke-width="1.2" fill="none"/>
<path d="M709.2 921.0H718.2M709.2 930.6H718.2M713.7 921.0V930.6" stroke="#1a1a1a" stroke-width="1.2" fill="none"/>
<path d="M734.0 961.6H743.0M734.0 966.0H743.0M738.5 961.6V966.0" stroke="#1a1a1a" stroke-width="1.2" fill="none"/>
<line x1="606.40" y1="800.40" x2="606.40" y2="1020.20" stroke="#000" stroke-width="2.4"/>
<line x1="601.00" y1="1019.00" x2="769.60" y2="1019.00" stroke="#000" stroke-width="2.4"/>
<text x="684.2" y="891.1" font-size="9.07" font-family="'DejaVu Sans', sans-serif" textLength="7.7" lengthAdjust="spacingAndGlyphs">▲</text>
<text x="710.2" y="907.5" font-size="9.07" font-family="'DejaVu Sans', sans-serif" textLength="7.7" lengthAdjust="spacingAndGlyphs">▲</text>
<text x="736.2" y="946.5" font-size="9.07" font-family="'DejaVu Sans', sans-serif" textLength="7.7" lengthAdjust="spacingAndGlyphs">▲</text>
<text transform="translate(554.0 895.0) rotate(-90)" font-size="14.6" font-weight="bold" text-anchor="middle" textLength="117.0" lengthAdjust="spacingAndGlyphs">p-JNK/JNK ratio</text>
<text x="639.5" y="1051.4" font-size="16.6" font-weight="bold" textLength="98.6" lengthAdjust="spacingAndGlyphs">p-SAPK/JNK</text>
<rect x="92.10" y="1087.30" width="11.00" height="11.00" fill="#FF5959" stroke="#2b2b2b" stroke-width="1"/>
<text x="108.3" y="1097.8" font-size="18" textLength="58.7" lengthAdjust="spacingAndGlyphs">Control</text>
<rect x="193.90" y="1087.30" width="11.00" height="11.00" fill="#BDD7EE" stroke="#2b2b2b" stroke-width="1"/>
<text x="209.8" y="1097.8" font-size="18" textLength="105.5" lengthAdjust="spacingAndGlyphs">Activin (1 ng)</text>
<rect x="340.90" y="1087.30" width="11.00" height="11.00" fill="#8FAADC" stroke="#2b2b2b" stroke-width="1"/>
<text x="356.5" y="1097.8" font-size="18" textLength="105.8" lengthAdjust="spacingAndGlyphs">Activin (5 ng)</text>
<rect x="487.90" y="1087.30" width="11.00" height="11.00" fill="#767171" stroke="#2b2b2b" stroke-width="1"/>
<text x="503.5" y="1097.8" font-size="18" textLength="115.0" lengthAdjust="spacingAndGlyphs">Activin (25 ng)</text>
<rect x="646.10" y="1087.30" width="11.00" height="11.00" fill="#333F50" stroke="#2b2b2b" stroke-width="1"/>
<text x="661.5" y="1097.8" font-size="18" textLength="124.5" lengthAdjust="spacingAndGlyphs">Activin (100 ng)</text>
<text x="833.0" y="981.3" font-size="16" font-weight="bold" text-anchor="middle">*</text>
<text x="843.3" y="983.0" font-size="16" textLength="59.2" lengthAdjust="spacingAndGlyphs">: p&lt;0.05</text>
<text x="798.5" y="1003.0" font-size="15.6" font-family="'DejaVu Sans', sans-serif" textLength="14.4" lengthAdjust="spacingAndGlyphs">▲</text>
<text x="841.5" y="1005.0" font-size="16" textLength="214.5" lengthAdjust="spacingAndGlyphs">: p&lt;0.01 compared to control</text>
</g>
<g id="panelB">
<text x="1397.1" y="37.6" font-size="26.4" font-weight="bold" textLength="18.4" lengthAdjust="spacingAndGlyphs">B</text>
<text x="1616.5" y="16.6" font-size="19" font-weight="bold" textLength="155.6" lengthAdjust="spacingAndGlyphs">Activin-A (ng/ml)</text>
<path d="M1567.8 31V28.2Q1567.8 25.8 1570.4 25.8H1796Q1798.6 25.8 1798.6 28.2V31" fill="none" stroke="#7f7f7f" stroke-width="1.2"/>
<text x="1479.5" y="55.6" font-size="19.8" textLength="65.4" lengthAdjust="spacingAndGlyphs">Control</text>
<text x="1581.1" y="55.6" font-size="19.8" textLength="10.4" lengthAdjust="spacingAndGlyphs">1</text>
<text x="1647.1" y="55.6" font-size="19.8" textLength="11.4" lengthAdjust="spacingAndGlyphs">5</text>
<text x="1705.5" y="55.6" font-size="19.8" textLength="22.0" lengthAdjust="spacingAndGlyphs">25</text>
<text x="1754.5" y="55.6" font-size="19.8" textLength="33.0" lengthAdjust="spacingAndGlyphs">100</text>
<text x="1846.5" y="763.6" font-size="19" textLength="88.0" lengthAdjust="spacingAndGlyphs">MW (kDa)</text>
<linearGradient id="bg1" x1="0" y1="0" x2="1" y2="0"><stop offset="0" stop-color="#dcdcdc"/><stop offset="0.3" stop-color="#e6e6e6"/><stop offset="1" stop-color="#e4e4e4"/></linearGradient>
<clipPath id="cp1"><rect x="1477.2" y="78.8" width="347.19999999999993" height="49.00000000000001"/></clipPath>
<rect x="1477.20" y="78.80" width="347.20" height="49.00" fill="url(#bg1)"/>
<g clip-path="url(#cp1)">
<rect x="1476" y="77.6" width="349.5999999999999" height="51.400000000000006" fill="#000" opacity="0.07" filter="url(#nz)"/>
<rect x="1485.5" y="92.7" width="59.0" height="13.0" rx="6.5" fill="#000" opacity="1" filter="url(#b2)"/>
<rect x="1489.0" y="94.8" width="52.0" height="8.5" rx="4.2" fill="#000" opacity="1" filter="url(#b1)"/>
<rect x="1552.5" y="93.2" width="55.0" height="10.5" rx="5.2" fill="#000" opacity="1" filter="url(#b2)"/>
<rect x="1558.0" y="94.8" width="48.0" height="6.5" rx="3.2" fill="#000" opacity="1" filter="url(#b1)"/>
<rect x="1618.0" y="96.5" width="12.0" height="6.0" rx="3.0" fill="#000" opacity="0.75" filter="url(#b2)"/>
<rect x="1622.0" y="98.2" width="44.0" height="4.5" rx="2.2" fill="#000" opacity="0.28" filter="url(#b2)"/>
<rect x="1684.0" y="100.2" width="48.0" height="3.5" rx="1.8" fill="#000" opacity="0.12" filter="url(#b2)"/>
</g>
<rect x="1479.2" y="80.8" width="343.19999999999993" height="45.00000000000001" fill="none" stroke="#fff" stroke-opacity="0.55" stroke-width="1"/>
<rect x="1477.2" y="78.8" width="347.19999999999993" height="49.00000000000001" fill="none" stroke="#000" stroke-width="2.4"/>
<text x="1459.5" y="109.6" font-size="20.6" text-anchor="end" textLength="42.4" lengthAdjust="spacingAndGlyphs">StAR</text>
<text x="1845.5" y="114.4" font-size="19.4" textLength="22.0" lengthAdjust="spacingAndGlyphs">30</text>
<line x1="1830.40" y1="107.00" x2="1840.00" y2="107.00" stroke="#7f7f7f" stroke-width="1.4"/>
<linearGradient id="bg2" x1="0" y1="0" x2="1" y2="0"><stop offset="0" stop-color="#d6d6d6"/><stop offset="0.25" stop-color="#e2e2e2"/><stop offset="0.4" stop-color="#e9e9e9"/><stop offset="1" stop-color="#e6e6e6"/></linearGradient>
<clipPath id="cp2"><rect x="1477.2" y="137.79999999999998" width="347.19999999999993" height="56.6"/></clipPath>
<rect x="1477.20" y="137.80" width="347.20" height="56.60" fill="url(#bg2)"/>
<g clip-path="url(#cp2)">
<rect x="1476" y="136.6" width="349.5999999999999" height="59.0" fill="#000" opacity="0.07" filter="url(#nz)"/>
<rect x="1489.0" y="150.0" width="56.0" height="16.0" rx="8.0" fill="#000" opacity="0.3" filter="url(#b3)"/>
<rect x="1553.0" y="150.0" width="46.0" height="14.0" rx="7.0" fill="#000" opacity="0.16" filter="url(#b3)"/>
<rect x="1484.0" y="168.1" width="66.0" height="11.0" rx="5.5" fill="#000" opacity="1" filter="url(#b2)"/>
<rect x="1494.0" y="170.3" width="52.0" height="6.5" rx="3.2" fill="#000" opacity="0.95" filter="url(#b1)"/>
<rect x="1554.0" y="168.8" width="58.0" height="7.5" rx="3.8" fill="#000" opacity="0.75" filter="url(#b2)"/>
<rect x="1627.0" y="170.6" width="50.0" height="4.0" rx="2.0" fill="#000" opacity="0.15" filter="url(#b2)"/>
</g>
<rect x="1479.2" y="139.79999999999998" width="343.19999999999993" height="52.6" fill="none" stroke="#fff" stroke-opacity="0.55" stroke-width="1"/>
<rect x="1477.2" y="137.79999999999998" width="347.19999999999993" height="56.6" fill="none" stroke="#000" stroke-width="2.4"/>
<text x="1459.5" y="175.0" font-size="20.6" text-anchor="end" textLength="72.0" lengthAdjust="spacingAndGlyphs">p450scc</text>
<text x="1845.5" y="178.6" font-size="19.4" textLength="22.0" lengthAdjust="spacingAndGlyphs">60</text>
<line x1="1830.40" y1="172.00" x2="1840.00" y2="172.00" stroke="#7f7f7f" stroke-width="1.4"/>
<linearGradient id="bg3" x1="0" y1="0" x2="1" y2="0"><stop offset="0" stop-color="#cfcfcf"/><stop offset="0.22" stop-color="#c9c9c9"/><stop offset="0.4" stop-color="#dedede"/><stop offset="0.6" stop-color="#eaeaea"/><stop offset="1" stop-color="#ececec"/></linearGradient>
<clipPath id="cp3"><rect x="1477.2" y="205.6" width="347.19999999999993" height="58.199999999999996"/></clipPath>
<rect x="1477.20" y="205.60" width="347.20" height="58.20" fill="url(#bg3)"/>
<g clip-path="url(#cp3)">
<rect x="1476" y="204.4" width="349.5999999999999" height="60.599999999999994" fill="#000" opacity="0.16" filter="url(#nz)"/>
<rect x="1480.0" y="237.0" width="70.0" height="26.0" rx="13.0" fill="#000" opacity="0.18" filter="url(#b5)"/>
<rect x="1550.0" y="237.0" width="60.0" height="26.0" rx="13.0" fill="#000" opacity="0.2" filter="url(#b5)"/>
<rect x="1488.0" y="230.4" width="52.0" height="8.0" rx="4.0" fill="#000" opacity="0.9" filter="url(#b2)"/>
<rect x="1491.0" y="232.8" width="34.0" height="4.5" rx="2.2" fill="#000" opacity="0.7" filter="url(#b1)"/>
<rect x="1556.0" y="228.8" width="52.0" height="7.5" rx="3.8" fill="#000" opacity="0.6" filter="url(#b2)"/>
<rect x="1624.0" y="230.5" width="52.0" height="7.0" rx="3.5" fill="#000" opacity="0.14" filter="url(#b3)"/>
<rect x="1819.0" y="229.0" width="8.0" height="10.0" rx="4.0" fill="#000" opacity="0.18" filter="url(#b3)"/>
</g>
<rect x="1479.2" y="207.6" width="343.19999999999993" height="54.199999999999996" fill="none" stroke="#fff" stroke-opacity="0.55" stroke-width="1"/>
<rect x="1477.2" y="205.6" width="347.19999999999993" height="58.199999999999996" fill="none" stroke="#000" stroke-width="2.4"/>
<text x="1459.5" y="239.6" font-size="20.6" text-anchor="end" textLength="66.0" lengthAdjust="spacingAndGlyphs">3β-HSD</text>
<text x="1845.5" y="244.2" font-size="19.4" textLength="22.0" lengthAdjust="spacingAndGlyphs">42</text>
<line x1="1830.40" y1="237.50" x2="1840.00" y2="237.50" stroke="#7f7f7f" stroke-width="1.4"/>
<linearGradient id="bg4" x1="0" y1="0" x2="1" y2="0"><stop offset="0" stop-color="#b4b4b4"/><stop offset="0.35" stop-color="#bcbcbc"/><stop offset="0.6" stop-color="#c6c6c6"/><stop offset="0.75" stop-color="#d8d8d8"/><stop offset="1" stop-color="#e2e2e2"/></linearGradient>
<clipPath id="cp4"><rect x="1477.2" y="274.2" width="348.19999999999993" height="55.200000000000024"/></clipPath>
<rect x="1477.20" y="274.20" width="348.20" height="55.20" fill="url(#bg4)"/>
<g clip-path="url(#cp4)">
<rect x="1476" y="273" width="350.5999999999999" height="57.60000000000002" fill="#000" opacity="0.22" filter="url(#nz)"/>
<rect x="1488.0" y="298.1" width="56.0" height="7.0" rx="3.5" fill="#000" opacity="0.85" filter="url(#b2)"/>
<rect x="1488.0" y="299.1" width="24.0" height="5.0" rx="2.5" fill="#000" opacity="0.7" filter="url(#b1)"/>
<rect x="1556.0" y="298.1" width="52.0" height="7.0" rx="3.5" fill="#000" opacity="0.42" filter="url(#b2)"/>
<rect x="1620.0" y="298.8" width="52.0" height="6.5" rx="3.2" fill="#000" opacity="0.26" filter="url(#b2)"/>
<rect x="1691.0" y="293.5" width="26.0" height="9.0" rx="4.5" fill="#000" opacity="0.42" filter="url(#b3)"/>
<rect x="1702.0" y="297.5" width="40.0" height="5.0" rx="2.5" fill="#000" opacity="0.22" filter="url(#b2)"/>
</g>
<rect x="1479.2" y="276.2" width="344.19999999999993" height="51.200000000000024" fill="none" stroke="#fff" stroke-opacity="0.55" stroke-width="1"/>
<rect x="1477.2" y="274.2" width="348.19999999999993" height="55.200000000000024" fill="none" stroke="#000" stroke-width="2.4"/>
<text x="1459.5" y="305.0" font-size="20.6" text-anchor="end" textLength="77.0" lengthAdjust="spacingAndGlyphs">17β-HSD</text>
<text x="1845.9" y="309.0" font-size="19.4" textLength="37.6" lengthAdjust="spacingAndGlyphs">34,5</text>
<line x1="1831.00" y1="304.40" x2="1840.40" y2="304.40" stroke="#7f7f7f" stroke-width="1.4"/>
<linearGradient id="bg5" x1="0" y1="0" x2="1" y2="0"><stop offset="0" stop-color="#e3e3e3"/><stop offset="1" stop-color="#e6e6e6"/></linearGradient>
<clipPath id="cp5"><rect x="1477.2" y="340.59999999999997" width="349.19999999999993" height="51.80000000000005"/></clipPath>
<rect x="1477.20" y="340.60" width="349.20" height="51.80" fill="url(#bg5)"/>
<g clip-path="url(#cp5)">
<rect x="1488.0" y="363.0" width="56.0" height="18.0" rx="9.0" fill="#000" opacity="0.25" filter="url(#b3)"/>
<rect x="1558.0" y="363.0" width="56.0" height="18.0" rx="9.0" fill="#000" opacity="0.22" filter="url(#b3)"/>
<rect x="1629.0" y="363.0" width="52.0" height="18.0" rx="9.0" fill="#000" opacity="0.2" filter="url(#b3)"/>
<rect x="1695.0" y="364.0" width="52.0" height="16.0" rx="8.0" fill="#000" opacity="0.2" filter="url(#b3)"/>
<rect x="1762.0" y="363.0" width="52.0" height="14.0" rx="7.0" fill="#000" opacity="0.16" filter="url(#b3)"/>
<rect x="1486.0" y="356.1" width="60.0" height="11.0" rx="5.5" fill="#000" opacity="1" filter="url(#b2)"/>
<rect x="1490.0" y="358.6" width="52.0" height="6.0" rx="3.0" fill="#000" opacity="1" filter="url(#b1)"/>
<rect x="1558.0" y="354.1" width="58.0" height="9.5" rx="4.8" fill="#000" opacity="1" filter="url(#b2)"/>
<rect x="1562.0" y="356.5" width="50.0" height="5.0" rx="2.5" fill="#000" opacity="1" filter="url(#b1)"/>
<rect x="1628.0" y="355.9" width="54.0" height="9.5" rx="4.8" fill="#000" opacity="1" filter="url(#b2)"/>
<rect x="1632.0" y="358.1" width="46.0" height="5.0" rx="2.5" fill="#000" opacity="1" filter="url(#b1)"/>
<rect x="1693.0" y="356.4" width="56.0" height="10.0" rx="5.0" fill="#000" opacity="1" filter="url(#b2)"/>
<rect x="1697.0" y="358.6" width="48.0" height="5.5" rx="2.8" fill="#000" opacity="1" filter="url(#b1)"/>
<rect x="1760.0" y="356.6" width="56.0" height="7.5" rx="3.8" fill="#000" opacity="0.95" filter="url(#b2)"/>
<rect x="1765.0" y="358.6" width="46.0" height="3.5" rx="1.8" fill="#000" opacity="0.9" filter="url(#b1)"/>
</g>
<rect x="1479.2" y="342.59999999999997" width="345.19999999999993" height="47.80000000000005" fill="none" stroke="#fff" stroke-opacity="0.55" stroke-width="1"/>
<rect x="1477.2" y="340.59999999999997" width="349.19999999999993" height="51.80000000000005" fill="none" stroke="#000" stroke-width="2.4"/>
<text x="1459.5" y="369.0" font-size="20.6" text-anchor="end" textLength="96.0" lengthAdjust="spacingAndGlyphs">Aromatase</text>
<text x="1845.5" y="373.6" font-size="19.4" textLength="22.0" lengthAdjust="spacingAndGlyphs">55</text>
<line x1="1831.00" y1="367.00" x2="1840.40" y2="367.00" stroke="#7f7f7f" stroke-width="1.4"/>
<rect x="1478.4" y="381" width="347" height="10.2" fill="#fff" opacity="0.45" filter="url(#b2)" clip-path="url(#cp5)"/>
<linearGradient id="bg6" x1="0" y1="0" x2="1" y2="0"><stop offset="0" stop-color="#dedede"/><stop offset="0.3" stop-color="#e6e6e6"/><stop offset="1" stop-color="#ebebeb"/></linearGradient>
<clipPath id="cp6"><rect x="1478.2" y="402.8" width="350.19999999999993" height="52.99999999999998"/></clipPath>
<rect x="1478.20" y="402.80" width="350.20" height="53.00" fill="url(#bg6)"/>
<g clip-path="url(#cp6)">
<rect x="1477" y="401.6" width="352.5999999999999" height="55.39999999999998" fill="#000" opacity="0.08" filter="url(#nz)"/>
<rect x="1494.0" y="415.4" width="50.0" height="4.0" rx="2.0" fill="#000" opacity="0.3" filter="url(#b2)"/>
<rect x="1491.0" y="431.9" width="56.0" height="7.0" rx="3.5" fill="#000" opacity="0.8" filter="url(#b2)"/>
<rect x="1497.0" y="433.6" width="44.0" height="3.5" rx="1.8" fill="#000" opacity="0.5" filter="url(#b1)"/>
<rect x="1493.0" y="443.0" width="52.0" height="6.0" rx="3.0" fill="#000" opacity="0.18" filter="url(#b2)"/>
<rect x="1566.0" y="432.8" width="50.0" height="4.5" rx="2.2" fill="#000" opacity="0.3" filter="url(#b2)"/>
<rect x="1634.0" y="433.1" width="48.0" height="5.0" rx="2.5" fill="#000" opacity="0.42" filter="url(#b2)"/>
<rect x="1659.0" y="434.6" width="22.0" height="3.5" rx="1.8" fill="#000" opacity="0.3" filter="url(#b1)"/>
</g>
<rect x="1480.2" y="404.8" width="346.19999999999993" height="48.99999999999998" fill="none" stroke="#fff" stroke-opacity="0.55" stroke-width="1"/>
<rect x="1478.2" y="402.8" width="350.19999999999993" height="52.99999999999998" fill="none" stroke="#000" stroke-width="2.4"/>
<text x="1459.5" y="434.4" font-size="20.6" text-anchor="end" textLength="63.0" lengthAdjust="spacingAndGlyphs">p-c-Jun</text>
<text x="1845.5" y="438.6" font-size="19.4" textLength="22.0" lengthAdjust="spacingAndGlyphs">48</text>
<line x1="1832.00" y1="432.40" x2="1841.40" y2="432.40" stroke="#7f7f7f" stroke-width="1.4"/>
<linearGradient id="bg7" x1="0" y1="0" x2="1" y2="0"><stop offset="0" stop-color="#d8d8d8"/><stop offset="1" stop-color="#dedede"/></linearGradient>
<clipPath id="cp7"><rect x="1478.2" y="466.8" width="350.19999999999993" height="55.399999999999956"/></clipPath>
<rect x="1478.20" y="466.80" width="350.20" height="55.40" fill="url(#bg7)"/>
<g clip-path="url(#cp7)">
<rect x="1477" y="465.6" width="352.5999999999999" height="57.799999999999955" fill="#000" opacity="0.12" filter="url(#nz)"/>
<rect x="1497.0" y="505.0" width="46.0" height="10.0" rx="5.0" fill="#000" opacity="0.25" filter="url(#b3)"/>
<rect x="1564.0" y="505.0" width="46.0" height="10.0" rx="5.0" fill="#000" opacity="0.25" filter="url(#b3)"/>
<rect x="1630.0" y="505.0" width="46.0" height="10.0" rx="5.0" fill="#000" opacity="0.28" filter="url(#b3)"/>
<rect x="1697.0" y="504.0" width="46.0" height="10.0" rx="5.0" fill="#000" opacity="0.22" filter="url(#b3)"/>
<rect x="1767.0" y="504.0" width="46.0" height="10.0" rx="5.0" fill="#000" opacity="0.18" filter="url(#b3)"/>
<rect x="1495.0" y="494.2" width="50.0" height="7.5" rx="3.8" fill="#000" opacity="0.95" filter="url(#b2)"/>
<rect x="1563.0" y="494.6" width="48.0" height="7.5" rx="3.8" fill="#000" opacity="0.95" filter="url(#b2)"/>
<rect x="1629.0" y="493.9" width="48.0" height="7.5" rx="3.8" fill="#000" opacity="0.95" filter="url(#b2)"/>
<rect x="1695.5" y="493.1" width="49.0" height="7.0" rx="3.5" fill="#000" opacity="0.9" filter="url(#b2)"/>
<rect x="1765.5" y="494.0" width="47.0" height="6.0" rx="3.0" fill="#000" opacity="0.8" filter="url(#b2)"/>
</g>
<rect x="1480.2" y="468.8" width="346.19999999999993" height="51.399999999999956" fill="none" stroke="#fff" stroke-opacity="0.55" stroke-width="1"/>
<rect x="1478.2" y="466.8" width="350.19999999999993" height="55.399999999999956" fill="none" stroke="#000" stroke-width="2.4"/>
<text x="1459.5" y="499.4" font-size="20.6" text-anchor="end" textLength="46.0" lengthAdjust="spacingAndGlyphs">c-Jun</text>
<text x="1845.5" y="503.4" font-size="19.4" textLength="22.0" lengthAdjust="spacingAndGlyphs">48</text>
<line x1="1832.00" y1="497.40" x2="1841.40" y2="497.40" stroke="#7f7f7f" stroke-width="1.4"/>
<linearGradient id="bg8" x1="0" y1="0" x2="1" y2="0"><stop offset="0" stop-color="#b2b2b2"/><stop offset="0.5" stop-color="#b6b6b6"/><stop offset="1" stop-color="#b9b9b9"/></linearGradient>
<clipPath id="cp8"><rect x="1477.2" y="530.6" width="349.6" height="65.20000000000002"/></clipPath>
<rect x="1477.20" y="530.60" width="349.60" height="65.20" fill="url(#bg8)"/>
<g clip-path="url(#cp8)">
<rect x="1476" y="529.4" width="352" height="67.60000000000002" fill="#000" opacity="0.2" filter="url(#nz)"/>
<rect x="1489.0" y="545.5" width="58.0" height="8.5" rx="4.2" fill="#000" opacity="1" filter="url(#b2)"/>
<rect x="1494.0" y="547.5" width="48.0" height="4.5" rx="2.2" fill="#000" opacity="0.9" filter="url(#b1)"/>
<rect x="1559.0" y="545.6" width="54.0" height="7.5" rx="3.8" fill="#000" opacity="0.95" filter="url(#b2)"/>
<rect x="1564.0" y="547.4" width="44.0" height="4.0" rx="2.0" fill="#000" opacity="0.8" filter="url(#b1)"/>
<rect x="1634.0" y="545.8" width="56.0" height="6.5" rx="3.2" fill="#000" opacity="0.4" filter="url(#b2)"/>
<rect x="1703.0" y="546.6" width="56.0" height="7.5" rx="3.8" fill="#000" opacity="0.45" filter="url(#b2)"/>
<rect x="1775.0" y="546.9" width="44.0" height="5.5" rx="2.8" fill="#000" opacity="0.28" filter="url(#b2)"/>
<rect x="1494.0" y="575.4" width="48.0" height="4.0" rx="2.0" fill="#000" opacity="0.2" filter="url(#b2)"/>
<rect x="1561.0" y="575.4" width="44.0" height="4.0" rx="2.0" fill="#000" opacity="0.22" filter="url(#b2)"/>
<rect x="1638.0" y="574.2" width="44.0" height="3.5" rx="1.8" fill="#000" opacity="0.1" filter="url(#b2)"/>
<rect x="1714.0" y="575.4" width="46.0" height="4.0" rx="2.0" fill="#000" opacity="0.2" filter="url(#b2)"/>
</g>
<rect x="1479.2" y="532.6" width="345.6" height="61.200000000000024" fill="none" stroke="#fff" stroke-opacity="0.55" stroke-width="1"/>
<rect x="1477.2" y="530.6" width="349.6" height="65.20000000000002" fill="none" stroke="#000" stroke-width="2.4"/>
<text x="1459.5" y="565.0" font-size="20.6" text-anchor="end" textLength="104.5" lengthAdjust="spacingAndGlyphs">p-SAPK/JNK</text>
<text x="1846.9" y="552.0" font-size="19.4" textLength="21.6" lengthAdjust="spacingAndGlyphs">54</text>
<line x1="1832.00" y1="546.40" x2="1841.40" y2="546.40" stroke="#7f7f7f" stroke-width="1.4"/>
<text x="1846.9" y="584.4" font-size="19.4" textLength="21.6" lengthAdjust="spacingAndGlyphs">46</text>
<line x1="1832.00" y1="579.00" x2="1841.40" y2="579.00" stroke="#7f7f7f" stroke-width="1.4"/>
<rect x="1562" y="583.2" width="3" height="1.6" fill="#111"/>
<linearGradient id="bg9" x1="0" y1="0" x2="1" y2="0"><stop offset="0" stop-color="#cdcdcd"/><stop offset="0.5" stop-color="#d2d2d2"/><stop offset="1" stop-color="#cfcfcf"/></linearGradient>
<clipPath id="cp9"><rect x="1477.2" y="606.2" width="349.6" height="61.99999999999998"/></clipPath>
<rect x="1477.20" y="606.20" width="349.60" height="62.00" fill="url(#bg9)"/>
<g clip-path="url(#cp9)">
<rect x="1476" y="605" width="352" height="64.39999999999998" fill="#000" opacity="0.12" filter="url(#nz)"/>
<rect x="1491.0" y="618.2" width="58.0" height="7.5" rx="3.8" fill="#000" opacity="0.9" filter="url(#b2)"/>
<rect x="1562.0" y="619.5" width="54.0" height="7.0" rx="3.5" fill="#000" opacity="0.75" filter="url(#b2)"/>
<rect x="1631.0" y="619.0" width="54.0" height="8.0" rx="4.0" fill="#000" opacity="0.92" filter="url(#b2)"/>
<rect x="1697.0" y="618.1" width="56.0" height="9.0" rx="4.5" fill="#000" opacity="1" filter="url(#b2)"/>
<rect x="1703.0" y="620.6" width="44.0" height="4.0" rx="2.0" fill="#000" opacity="0.8" filter="url(#b1)"/>
<rect x="1763.0" y="617.2" width="54.0" height="9.5" rx="4.8" fill="#000" opacity="1" filter="url(#b2)"/>
<rect x="1768.0" y="619.5" width="44.0" height="5.0" rx="2.5" fill="#000" opacity="0.9" filter="url(#b1)"/>
<rect x="1494.0" y="649.6" width="52.0" height="4.0" rx="2.0" fill="#000" opacity="0.28" filter="url(#b2)"/>
<rect x="1564.0" y="650.4" width="50.0" height="4.0" rx="2.0" fill="#000" opacity="0.28" filter="url(#b2)"/>
<rect x="1633.0" y="651.0" width="50.0" height="4.0" rx="2.0" fill="#000" opacity="0.32" filter="url(#b2)"/>
<rect x="1700.0" y="651.0" width="50.0" height="4.0" rx="2.0" fill="#000" opacity="0.38" filter="url(#b2)"/>
<rect x="1765.0" y="651.0" width="50.0" height="4.0" rx="2.0" fill="#000" opacity="0.38" filter="url(#b2)"/>
</g>
<rect x="1479.2" y="608.2" width="345.6" height="57.99999999999998" fill="none" stroke="#fff" stroke-opacity="0.55" stroke-width="1"/>
<rect x="1477.2" y="606.2" width="349.6" height="61.99999999999998" fill="none" stroke="#000" stroke-width="2.4"/>
<text x="1459.5" y="629.4" font-size="20.6" text-anchor="end" textLength="85.6" lengthAdjust="spacingAndGlyphs">SAPK/JNK</text>
<text x="1849.5" y="623.5" font-size="19.4" textLength="21.6" lengthAdjust="spacingAndGlyphs">54</text>
<line x1="1833.00" y1="617.40" x2="1842.40" y2="617.40" stroke="#7f7f7f" stroke-width="1.4"/>
<text x="1849.5" y="654.0" font-size="19.4" textLength="21.6" lengthAdjust="spacingAndGlyphs">46</text>
<line x1="1832.00" y1="649.60" x2="1841.40" y2="649.60" stroke="#7f7f7f" stroke-width="1.4"/>
<linearGradient id="bg10" x1="0" y1="0" x2="1" y2="0"><stop offset="0" stop-color="#efefef"/><stop offset="1" stop-color="#f1f1f1"/></linearGradient>
<clipPath id="cp10"><rect x="1477.2" y="678.6" width="349.6" height="53.80000000000005"/></clipPath>
<rect x="1477.20" y="678.60" width="349.60" height="53.80" fill="url(#bg10)"/>
<g clip-path="url(#cp10)">
<rect x="1493.0" y="716.0" width="52.0" height="12.0" rx="6.0" fill="#000" opacity="0.2" filter="url(#b3)"/>
<rect x="1566.0" y="717.0" width="52.0" height="10.0" rx="5.0" fill="#000" opacity="0.14" filter="url(#b3)"/>
<rect x="1636.0" y="717.0" width="50.0" height="10.0" rx="5.0" fill="#000" opacity="0.12" filter="url(#b3)"/>
<rect x="1703.0" y="715.0" width="48.0" height="6.0" rx="3.0" fill="#000" opacity="0.2" filter="url(#b2)"/>
<rect x="1767.0" y="716.0" width="48.0" height="6.0" rx="3.0" fill="#000" opacity="0.15" filter="url(#b2)"/>
<rect x="1485.0" y="699.9" width="68.0" height="13.5" rx="6.8" fill="#000" opacity="1" filter="url(#b2)"/>
<rect x="1489.0" y="702.1" width="60.0" height="9.0" rx="4.5" fill="#000" opacity="1" filter="url(#b1)"/>
<rect x="1564.0" y="698.8" width="58.0" height="12.5" rx="6.2" fill="#000" opacity="1" filter="url(#b2)"/>
<rect x="1568.0" y="701.0" width="50.0" height="8.0" rx="4.0" fill="#000" opacity="1" filter="url(#b1)"/>
<rect x="1633.0" y="697.9" width="56.0" height="11.0" rx="5.5" fill="#000" opacity="1" filter="url(#b2)"/>
<rect x="1637.0" y="699.9" width="48.0" height="7.0" rx="3.5" fill="#000" opacity="1" filter="url(#b1)"/>
<rect x="1699.0" y="697.0" width="56.0" height="10.0" rx="5.0" fill="#000" opacity="1" filter="url(#b2)"/>
<rect x="1703.0" y="699.0" width="48.0" height="6.0" rx="3.0" fill="#000" opacity="1" filter="url(#b1)"/>
<rect x="1764.0" y="696.9" width="54.0" height="9.5" rx="4.8" fill="#000" opacity="1" filter="url(#b2)"/>
<rect x="1768.0" y="698.9" width="46.0" height="5.5" rx="2.8" fill="#000" opacity="1" filter="url(#b1)"/>
</g>
<rect x="1479.2" y="680.6" width="345.6" height="49.80000000000005" fill="none" stroke="#fff" stroke-opacity="0.55" stroke-width="1"/>
<rect x="1477.2" y="678.6" width="349.6" height="53.80000000000005" fill="none" stroke="#000" stroke-width="2.4"/>
<text x="1459.5" y="694.4" font-size="20.6" text-anchor="end" textLength="70.4" lengthAdjust="spacingAndGlyphs">Vinculin</text>
<text x="1846.9" y="701.0" font-size="19.4" textLength="33.2" lengthAdjust="spacingAndGlyphs">116</text>
<line x1="1832.00" y1="693.60" x2="1841.40" y2="693.60" stroke="#7f7f7f" stroke-width="1.4"/>
</g>
<g id="panelD">
<text x="1197.5" y="839.6" font-size="26.4" font-weight="bold" textLength="19.2" lengthAdjust="spacingAndGlyphs">D</text>
<line x1="1339.50" y1="835.60" x2="1377.00" y2="835.60" stroke="#FF0000" stroke-width="3.4" stroke-linecap="round"/>
<polygon points="1351.4,835.6 1357.8,829.2 1364.2,835.6 1357.8,842" fill="#FF0000"/>
<text x="1378.5" y="841.6" font-size="18.4" font-weight="bold" textLength="152.0" lengthAdjust="spacingAndGlyphs">Estradiol (pg/ml)</text>
<line x1="1563.00" y1="835.60" x2="1600.00" y2="835.60" stroke="#2E75B6" stroke-width="3.2" stroke-linecap="round"/>
<rect x="1574.00" y="828.60" width="14.00" height="14.00" fill="#2E75B6"/>
<text x="1601.9" y="841.6" font-size="18.4" font-weight="bold" textLength="194.2" lengthAdjust="spacingAndGlyphs">Progesterone (ng/ml)</text>
<line x1="1281.60" y1="873.60" x2="1281.60" y2="1201.40" stroke="#1a1a1a" stroke-width="1.8"/>
<line x1="1274.40" y1="1194.60" x2="1281.60" y2="1194.60" stroke="#1a1a1a" stroke-width="1.8"/>
<text x="1260.9" y="1200.6" font-size="19.2" text-anchor="end" textLength="32.0" lengthAdjust="spacingAndGlyphs">500</text>
<line x1="1274.40" y1="1151.84" x2="1281.60" y2="1151.84" stroke="#1a1a1a" stroke-width="1.8"/>
<text x="1260.9" y="1157.8" font-size="19.2" text-anchor="end" textLength="32.0" lengthAdjust="spacingAndGlyphs">700</text>
<line x1="1274.40" y1="1109.08" x2="1281.60" y2="1109.08" stroke="#1a1a1a" stroke-width="1.8"/>
<text x="1260.9" y="1115.1" font-size="19.2" text-anchor="end" textLength="32.0" lengthAdjust="spacingAndGlyphs">900</text>
<line x1="1274.40" y1="1066.32" x2="1281.60" y2="1066.32" stroke="#1a1a1a" stroke-width="1.8"/>
<text x="1260.9" y="1072.3" font-size="19.2" text-anchor="end" textLength="42.4" lengthAdjust="spacingAndGlyphs">1100</text>
<line x1="1274.40" y1="1023.56" x2="1281.60" y2="1023.56" stroke="#1a1a1a" stroke-width="1.8"/>
<text x="1260.9" y="1029.6" font-size="19.2" text-anchor="end" textLength="42.4" lengthAdjust="spacingAndGlyphs">1300</text>
<line x1="1274.40" y1="980.80" x2="1281.60" y2="980.80" stroke="#1a1a1a" stroke-width="1.8"/>
<text x="1260.9" y="986.8" font-size="19.2" text-anchor="end" textLength="42.4" lengthAdjust="spacingAndGlyphs">1500</text>
<line x1="1274.40" y1="938.04" x2="1281.60" y2="938.04" stroke="#1a1a1a" stroke-width="1.8"/>
<text x="1260.9" y="944.0" font-size="19.2" text-anchor="end" textLength="42.4" lengthAdjust="spacingAndGlyphs">1700</text>
<line x1="1274.40" y1="895.28" x2="1281.60" y2="895.28" stroke="#1a1a1a" stroke-width="1.8"/>
<text x="1260.9" y="901.3" font-size="19.2" text-anchor="end" textLength="42.4" lengthAdjust="spacingAndGlyphs">1900</text>
<line x1="1853.80" y1="873.60" x2="1853.80" y2="1201.40" stroke="#1a1a1a" stroke-width="1.8"/>
<line x1="1853.80" y1="1194.60" x2="1861.20" y2="1194.60" stroke="#1a1a1a" stroke-width="1.8"/>
<text x="1874.5" y="1200.4" font-size="19.2" textLength="11.0" lengthAdjust="spacingAndGlyphs">0</text>
<line x1="1853.80" y1="1141.14" x2="1861.20" y2="1141.14" stroke="#1a1a1a" stroke-width="1.8"/>
<text x="1874.5" y="1146.9" font-size="19.2" textLength="32.0" lengthAdjust="spacingAndGlyphs">100</text>
<line x1="1853.80" y1="1087.68" x2="1861.20" y2="1087.68" stroke="#1a1a1a" stroke-width="1.8"/>
<text x="1874.5" y="1093.5" font-size="19.2" textLength="32.0" lengthAdjust="spacingAndGlyphs">200</text>
<line x1="1853.80" y1="1034.22" x2="1861.20" y2="1034.22" stroke="#1a1a1a" stroke-width="1.8"/>
<text x="1874.5" y="1040.0" font-size="19.2" textLength="32.0" lengthAdjust="spacingAndGlyphs">300</text>
<line x1="1853.80" y1="980.76" x2="1861.20" y2="980.76" stroke="#1a1a1a" stroke-width="1.8"/>
<text x="1874.5" y="986.6" font-size="19.2" textLength="32.0" lengthAdjust="spacingAndGlyphs">400</text>
<line x1="1853.80" y1="927.30" x2="1861.20" y2="927.30" stroke="#1a1a1a" stroke-width="1.8"/>
<text x="1874.5" y="933.1" font-size="19.2" textLength="32.0" lengthAdjust="spacingAndGlyphs">500</text>
<line x1="1853.80" y1="873.84" x2="1861.20" y2="873.84" stroke="#1a1a1a" stroke-width="1.8"/>
<text x="1874.5" y="879.6" font-size="19.2" textLength="32.0" lengthAdjust="spacingAndGlyphs">600</text>
<line x1="1274.40" y1="1194.60" x2="1861.20" y2="1194.60" stroke="#1a1a1a" stroke-width="1.8"/>
<line x1="1396.00" y1="1194.60" x2="1396.00" y2="1201.40" stroke="#1a1a1a" stroke-width="1.8"/>
<line x1="1510.40" y1="1194.60" x2="1510.40" y2="1201.40" stroke="#1a1a1a" stroke-width="1.8"/>
<line x1="1624.80" y1="1194.60" x2="1624.80" y2="1201.40" stroke="#1a1a1a" stroke-width="1.8"/>
<line x1="1739.20" y1="1194.60" x2="1739.20" y2="1201.40" stroke="#1a1a1a" stroke-width="1.8"/>
<text transform="translate(1196.8 1019.7) rotate(-90)" font-size="20.4" font-weight="bold" text-anchor="middle" textLength="153.0" lengthAdjust="spacingAndGlyphs">Estradiol (pg/ml)</text>
<text transform="translate(1944.6 1023.8) rotate(-90)" font-size="20.4" font-weight="bold" text-anchor="middle" textLength="189.7" lengthAdjust="spacingAndGlyphs">Progesterone (ng/ml)</text>
<text x="1305.9" y="1229.0" font-size="19.4" textLength="65.2" lengthAdjust="spacingAndGlyphs">Control</text>
<text x="1434.5" y="1229.0" font-size="19.4" textLength="37.0" lengthAdjust="spacingAndGlyphs">1 ng</text>
<text x="1549.1" y="1229.0" font-size="19.4" textLength="37.0" lengthAdjust="spacingAndGlyphs">5 ng</text>
<text x="1658.5" y="1229.0" font-size="19.4" textLength="48.0" lengthAdjust="spacingAndGlyphs">25 ng</text>
<text x="1767.9" y="1229.0" font-size="19.4" textLength="59.2" lengthAdjust="spacingAndGlyphs">100 ng</text>
<line x1="1426.60" y1="1244.60" x2="1830.00" y2="1244.60" stroke="#000" stroke-width="2"/>
<text x="1565.1" y="1268.0" font-size="17.8" textLength="136.4" lengthAdjust="spacingAndGlyphs">Activin-A (ng/ml)</text>
<text x="1526.1" y="1150.6" font-size="19.6" textLength="270.4" lengthAdjust="spacingAndGlyphs">* : p&lt;0.05 compared to control</text>
<path d="M1335.4 908.0H1343.4M1335.4 946.0H1343.4M1339.4 908.0V946.0" stroke="#000" stroke-width="1.5" fill="none"/>
<path d="M1335.4 916.4H1343.4M1335.4 953.4H1343.4M1339.4 916.4V953.4" stroke="#000" stroke-width="1.5" fill="none"/>
<path d="M1449.6 919.6H1457.6M1449.6 956.0H1457.6M1453.6 919.6V956.0" stroke="#000" stroke-width="1.5" fill="none"/>
<path d="M1449.6 955.0H1457.6M1449.6 985.0H1457.6M1453.6 955.0V985.0" stroke="#000" stroke-width="1.5" fill="none"/>
<path d="M1563.8 933.0H1571.8M1563.8 967.6H1571.8M1567.8 933.0V967.6" stroke="#000" stroke-width="1.5" fill="none"/>
<path d="M1563.8 1000.6H1571.8M1563.8 1026.0H1571.8M1567.8 1000.6V1026.0" stroke="#000" stroke-width="1.5" fill="none"/>
<path d="M1678.4 972.4H1686.4M1678.4 1006.0H1686.4M1682.4 972.4V1006.0" stroke="#000" stroke-width="1.5" fill="none"/>
<path d="M1678.4 1008.0H1686.4M1678.4 1031.6H1686.4M1682.4 1008.0V1031.6" stroke="#000" stroke-width="1.5" fill="none"/>
<path d="M1793.0 1006.6H1801.0M1793.0 1036.0H1801.0M1797.0 1006.6V1036.0" stroke="#000" stroke-width="1.5" fill="none"/>
<path d="M1793.0 1023.6H1801.0M1793.0 1043.6H1801.0M1797.0 1023.6V1043.6" stroke="#000" stroke-width="1.5" fill="none"/>
<polyline points="1339.4,927 1453.6,938 1567.8,950 1682.4,989 1797,1021.6" fill="none" stroke="#FF0000" stroke-width="3.8" stroke-linejoin="round" stroke-linecap="round"/>
<polygon points="1332.8000000000002,927 1339.4,920.4 1346.0,927 1339.4,933.6" fill="#FF0000"/>
<polygon points="1447.0,938 1453.6,931.4 1460.1999999999998,938 1453.6,944.6" fill="#FF0000"/>
<polygon points="1561.2,950 1567.8,943.4 1574.3999999999999,950 1567.8,956.6" fill="#FF0000"/>
<polygon points="1675.8000000000002,989 1682.4,982.4 1689.0,989 1682.4,995.6" fill="#FF0000"/>
<polygon points="1790.4,1021.6 1797,1015.0 1803.6,1021.6 1797,1028.2" fill="#FF0000"/>
<polyline points="1339.4,936 1453.6,970 1567.8,1013.6 1682.4,1020 1797,1033.6" fill="none" stroke="#2E75B6" stroke-width="3.4" stroke-linejoin="round" stroke-linecap="round"/>
<rect x="1332.40" y="929.00" width="14.00" height="14.00" fill="#2E75B6"/>
<rect x="1446.60" y="963.00" width="14.00" height="14.00" fill="#2E75B6"/>
<rect x="1560.80" y="1006.60" width="14.00" height="14.00" fill="#2E75B6"/>
<rect x="1675.40" y="1013.00" width="14.00" height="14.00" fill="#2E75B6"/>
<rect x="1790.00" y="1026.60" width="14.00" height="14.00" fill="#2E75B6"/>
<text x="1680.0" y="960.6" font-size="15" font-weight="bold" text-anchor="middle">*</text>
<text x="1794.0" y="998.0" font-size="15" font-weight="bold" text-anchor="middle">*</text>
</g>
</svg>
</body></html>
